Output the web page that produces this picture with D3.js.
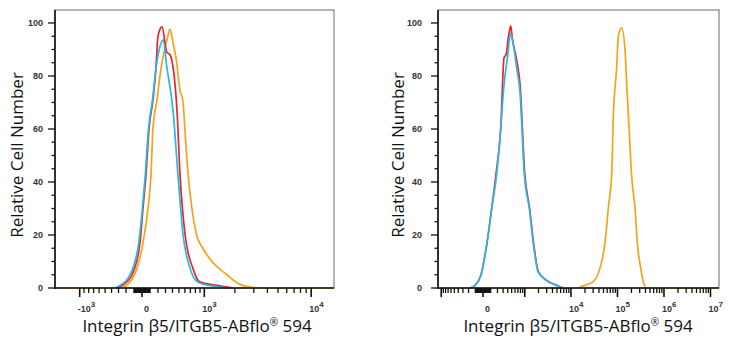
<!DOCTYPE html>
<html><head><meta charset="utf-8">
<script src="https://cdn.jsdelivr.net/npm/d3@7"></script>
<style>body{margin:0;background:#fff}svg{display:block}</style></head>
<body>
<svg id="chart" width="731" height="350"></svg>
<script>
// ---------- data (fluorescence intensity, relative cell count) ----------
const yTickValues = [0, 20, 40, 60, 80, 100];
const xTitleParts = ["Integrin β5/ITGB5-ABflo", "®", " 594"];
const yTitle = "Relative Cell Number";

const leftMajor  = [-1000, 0, 1000, 10000];
const leftLabels = [["-10","3"], ["0",""], ["10","3"], ["10","4"]];
const rightMajor  = [-1000, 0, 1000, 10000, 100000, 1000000, 10000000];
const rightLabels = [["",""], ["0",""], ["",""], ["10","4"], ["10","5"], ["10","6"], ["10","7"]];

const leftRed = [[-330,0],[-250,1],[-124,5],[-25,17],[12,30],[49,42.6],[86,60],[136,71],[175,83.5],[200,95],[253,98.5],[318,89],[364,88],[469,67],[518,42.6],[604,20],[748,7.5],[893,2.3],[1347,1],[1919,0]];
const leftCyan = [[-350,0],[-280,1],[-149,5],[-40,17],[5,30],[40,42.6],[80,60],[130,71],[175,83],[225,91],[266,93.6],[321,83],[408,67],[485,42.6],[569,20],[693,7.5],[848,2.3],[1200,0.8],[1800,0]];
const leftOrange = [[-280,0],[-149,2.3],[-62,7.5],[12,17],[74,30],[111,42.6],[136,60],[187,71],[226,80],[280,89],[321,93.6],[364,97.7],[408,92.4],[453,87],[518,74.7],[569,70],[604,58.5],[659,42.6],[730,30],[826,20],[965,15],[1199,10],[1680,5],[2094,2],[2596,0.5],[3500,0]];

const rightRed = [[-177,0],[-104,1],[-25,5],[51,17],[114,30],[177,43],[255,60],[320,87],[360,88],[420,95],[473,98.9],[520,94],[657,86],[781,77],[1000,43],[1280,30],[1560,17],[1980,6.2],[3050,2.8],[4900,1],[6700,0]];
const rightCyan = [[-177,0],[-104,1],[-25,5],[51,17],[114,30],[188,43],[255,60],[310,75],[400,88],[470,96],[560,91],[657,83],[781,74],[976,43],[1259,30],[1537,17],[1948,6.2],[3004,2.8],[4932,1],[6735,0]];
const rightOrange = [[13480,0],[18150,0.8],[29790,2.3],[42100,7.5],[53940,17],[63480,30],[75170,43],[81390,64.6],[96350,83.5],[104260,95],[123300,98.2],[145360,89.8],[158060,77],[179900,58.5],[200000,43],[238570,30],[267400,17],[316100,7.5],[359800,2.3],[425600,0]];

const colors = {red:"#ec2227", orange:"#f7a21b", cyan:"#27b8e6"};

const panels = [
  {left:55, right:334, top:10, bottom:288, domain:[-1759,16100], w:590,
   major:leftMajor, labels:leftLabels, labelEnd:43, titleX:23, xTitleX:197,
   series:[[leftOrange,colors.orange],[leftRed,colors.red],[leftCyan,colors.cyan]]},
  {left:438, right:719, top:10, bottom:288, domain:[-1179,15240000], w:257,
   major:rightMajor, labels:rightLabels, labelEnd:422, titleX:404, xTitleX:578,
   series:[[rightOrange,colors.orange],[rightRed,colors.red],[rightCyan,colors.cyan]]}
];

const svg = d3.select("#chart");
const tickFont = "'Liberation Sans', Arial, sans-serif";
const titleFont = "'Open Sans', 'Noto Sans', sans-serif";

panels.forEach(p => {
  const T = v => Math.asinh(v / p.w);
  const lin = d3.scaleLinear().domain(p.domain.map(T)).range([p.left, p.right]);
  const x = v => lin(T(v));
  const y = d3.scaleLinear().domain([0, 104.9]).range([p.bottom, p.top]);
  const g = svg.append("g");

  // frame
  g.append("rect").attr("x", p.left).attr("y", p.top)
    .attr("width", p.right - p.left).attr("height", p.bottom - p.top)
    .attr("fill", "none").attr("stroke", "#6a6a6a").attr("stroke-width", 1);

  // curves
  const line = d3.line().x(d => x(d[0])).y(d => y(d[1])).curve(d3.curveMonotoneX);
  p.series.forEach(([data, col], i) => {
    let pts = data;
    if (i === 0) pts = [[p.domain[0], 0], ...data, [p.domain[1], 0]];
    g.append("path").attr("d", line(pts)).attr("fill", "none")
      .attr("stroke", col).attr("stroke-width", 1.7).attr("stroke-linejoin", "round");
  });

  // y axis
  g.append("line").attr("x1", p.left).attr("x2", p.left).attr("y1", p.top).attr("y2", p.bottom + 1)
    .attr("stroke", "#111").attr("stroke-width", 1.6);
  d3.range(0, 105, 5).forEach(v => {
    const major = v % 20 === 0;
    g.append("line").attr("x1", p.left - (major ? 7 : 3.5)).attr("x2", p.left)
      .attr("y1", y(v)).attr("y2", y(v)).attr("stroke", "#111").attr("stroke-width", 1.3);
  });
  yTickValues.forEach(v => {
    g.append("text").attr("x", p.labelEnd).attr("y", y(v) + 3.2)
      .attr("text-anchor", "end").attr("font-family", tickFont).attr("font-weight", "bold")
      .attr("font-size", 9).attr("fill", "#333").text(v);
  });

  // x axis
  g.append("line").attr("x1", p.left).attr("x2", p.right).attr("y1", p.bottom).attr("y2", p.bottom)
    .attr("stroke", "#111").attr("stroke-width", 1.6);
  const minor = [];
  const lo = p.domain[0], hi = p.domain[1];
  for (let e = 1; e <= 7; e++) {
    const base = Math.pow(10, e);
    for (let m = 1; m <= 9; m++) {
      [m * base, -m * base].forEach(v => {
        if (v > lo && v < hi && !p.major.includes(v)) minor.push(v);
      });
    }
  }
  minor.forEach(v => {
    g.append("line").attr("x1", x(v)).attr("x2", x(v)).attr("y1", p.bottom).attr("y2", p.bottom + 5)
      .attr("stroke", "#111").attr("stroke-width", 1.3);
  });
  p.major.forEach((v, i) => {
    g.append("line").attr("x1", x(v)).attr("x2", x(v)).attr("y1", p.bottom).attr("y2", p.bottom + 9)
      .attr("stroke", "#111").attr("stroke-width", 1.6);
    const [b, sup] = p.labels[i];
    if (!b) return;
    const t = g.append("text").attr("x", x(v) + (v === 0 ? 2 : -2)).attr("y", 312)
      .attr("text-anchor", "start").attr("font-family", tickFont).attr("font-weight", "bold")
      .attr("font-size", 9).attr("fill", "#333");
    t.append("tspan").text(b);
    if (sup) t.append("tspan").attr("dy", -5).attr("font-size", 8).text(sup);
  });

  // titles
  const xt = g.append("text").attr("x", p.xTitleX).attr("y", 332)
    .attr("text-anchor", "middle").attr("font-family", titleFont).attr("font-size", 17)
    .attr("fill", "#111");
  xt.append("tspan").text(xTitleParts[0]);
  xt.append("tspan").attr("dy", -6).attr("font-size", 10).text(xTitleParts[1]);
  xt.append("tspan").attr("dy", 6).text(xTitleParts[2]);
  g.append("text").attr("transform", `translate(${p.titleX},${(p.top + p.bottom) / 2 + 6}) rotate(-90)`)
    .attr("text-anchor", "middle").attr("font-family", titleFont).attr("font-size", 17)
    .attr("fill", "#111").text(yTitle);
});
</script>
</body></html>
